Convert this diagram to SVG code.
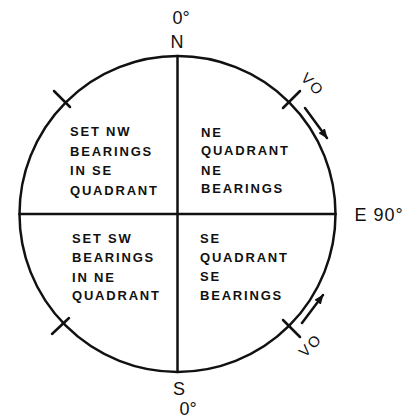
<svg xmlns="http://www.w3.org/2000/svg" width="408" height="418" viewBox="0 0 408 418">
<style>
.ln{stroke:#111;stroke-width:2.5;fill:none;stroke-linecap:round}
.q{font-family:"Liberation Sans",Arial,sans-serif;font-weight:bold;font-size:13px;letter-spacing:1.8px;fill:#111}
.lb{font-family:"Liberation Sans",Arial,sans-serif;font-size:18px;fill:#111;text-anchor:middle}
.vo{font-family:"Liberation Sans",Arial,sans-serif;font-size:15px;fill:#111;text-anchor:middle;letter-spacing:2px}
</style>
<defs>
<marker id="ah" markerWidth="10" markerHeight="8" refX="9" refY="4" orient="auto" markerUnits="userSpaceOnUse">
<path d="M0,0 L10,4 L0,8 Z" fill="#111"/>
</marker>
</defs>
<rect width="408" height="418" fill="#fff"/>
<g id="compass">
<circle class="ln" cx="177.5" cy="214" r="158"/>
<line class="ln" x1="177.5" y1="56" x2="177.5" y2="372"/>
<line class="ln" x1="19.5" y1="214" x2="335.5" y2="214"/>
</g>
<g id="connectors">
<line class="ln" x1="54" y1="91" x2="70" y2="107"/>
<line class="ln" x1="283" y1="108" x2="300" y2="91"/>
<line class="ln" x1="283" y1="320" x2="300" y2="337"/>
<line class="ln" x1="52" y1="334" x2="69" y2="318"/>
<line class="ln" x1="305" y1="108" x2="327" y2="138" marker-end="url(#ah)"/>
<line class="ln" x1="302" y1="323" x2="323" y2="295" marker-end="url(#ah)"/>
</g>
<g id="labels">
<text class="lb" x="181" y="24">0°</text>
<text class="lb" x="177" y="48">N</text>
<text class="lb" x="179" y="395">S</text>
<text class="lb" x="188" y="415" font-size="16">0°</text>
<text class="lb" x="379" y="221" letter-spacing="1">E 90°</text>
<text class="vo" transform="translate(309,88) rotate(45)">VO</text>
<text class="vo" transform="translate(314,349) rotate(-45)">VO</text>
</g>
<g id="nw">
<text class="q" x="70" y="136">SET NW</text>
<text class="q" x="70" y="156">BEARINGS</text>
<text class="q" x="70" y="175">IN SE</text>
<text class="q" x="70" y="195">QUADRANT</text>
</g>
<g id="ne">
<text class="q" x="201" y="137">NE</text>
<text class="q" x="201" y="155">QUADRANT</text>
<text class="q" x="201" y="175">NE</text>
<text class="q" x="201" y="193">BEARINGS</text>
</g>
<g id="sw">
<text class="q" x="72" y="243">SET SW</text>
<text class="q" x="72" y="262">BEARINGS</text>
<text class="q" x="72" y="282">IN NE</text>
<text class="q" x="72" y="300">QUADRANT</text>
</g>
<g id="se">
<text class="q" x="200" y="243">SE</text>
<text class="q" x="200" y="262">QUADRANT</text>
<text class="q" x="200" y="281">SE</text>
<text class="q" x="200" y="300">BEARINGS</text>
</g>
</svg>
